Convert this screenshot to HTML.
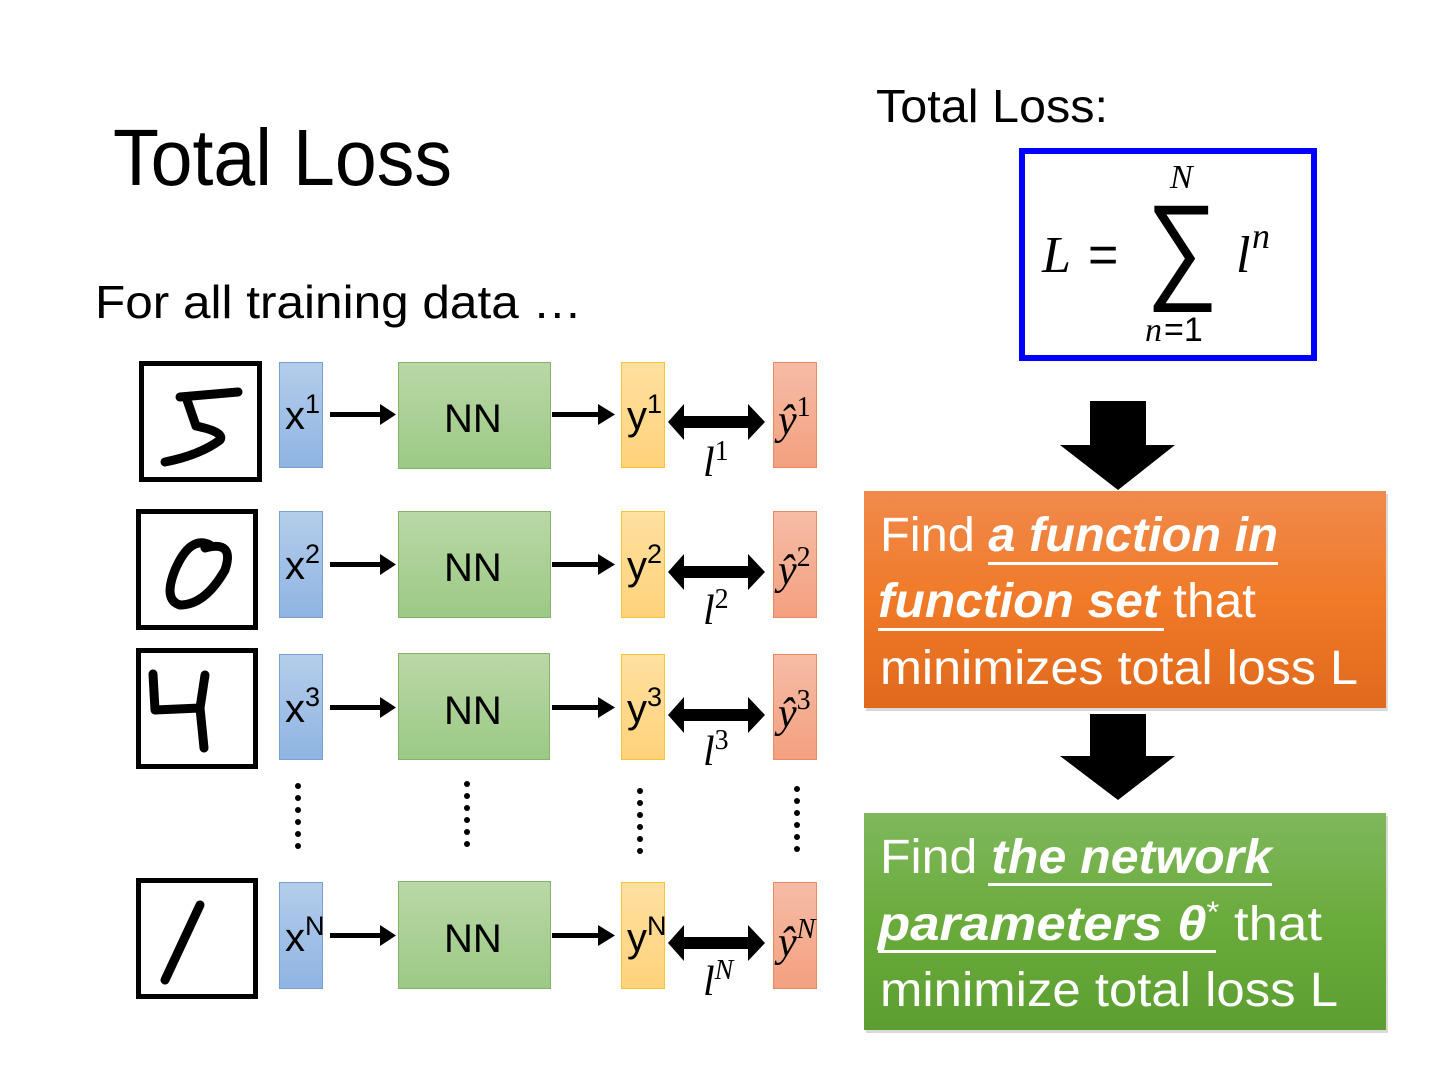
<!DOCTYPE html>
<html><head><meta charset="utf-8"><style>
html,body{margin:0;padding:0;background:#fff;width:1440px;height:1080px;overflow:hidden}
svg{display:block}
text{font-family:"Liberation Sans",sans-serif}
.m{font-family:"Liberation Serif",serif;font-style:italic}
</style></head><body>
<svg width="1440" height="1080" viewBox="0 0 1440 1080" xmlns="http://www.w3.org/2000/svg">
<defs>
<linearGradient id="gx" x1="0" y1="0" x2="0" y2="1"><stop offset="0" stop-color="#b4cdea"/><stop offset="1" stop-color="#8fb4e3"/></linearGradient>
<linearGradient id="gn" x1="0" y1="0" x2="0" y2="1"><stop offset="0" stop-color="#b9d8a6"/><stop offset="1" stop-color="#9cc985"/></linearGradient>
<linearGradient id="gy" x1="0" y1="0" x2="0" y2="1"><stop offset="0" stop-color="#ffe0a0"/><stop offset="1" stop-color="#ffd27a"/></linearGradient>
<linearGradient id="gh" x1="0" y1="0" x2="0" y2="1"><stop offset="0" stop-color="#f6bca6"/><stop offset="1" stop-color="#f3a07f"/></linearGradient>
<linearGradient id="go" x1="0" y1="0" x2="0" y2="1"><stop offset="0" stop-color="#f08a4c"/><stop offset="0.5" stop-color="#f07a28"/><stop offset="1" stop-color="#e0691c"/></linearGradient>
<linearGradient id="gg" x1="0" y1="0" x2="0" y2="1"><stop offset="0" stop-color="#7fb85c"/><stop offset="0.5" stop-color="#6aab3c"/><stop offset="1" stop-color="#5c9e30"/></linearGradient>
<g id="d"><circle cx="0" cy="0" r="3"/><circle cx="0" cy="12" r="3"/><circle cx="0" cy="24" r="3"/><circle cx="0" cy="36" r="3"/><circle cx="0" cy="48" r="3"/><circle cx="0" cy="60" r="3"/></g>
<g id="a1">
<rect x="330" y="412" width="52" height="5"/><polygon points="380,404 396,414.5 380,425"/>
<rect x="552" y="412" width="48" height="5"/><polygon points="598,404 615,414.5 598,425"/>
<polygon points="668,422 684,404 684,416 748,416 748,404 765,422 748,440 748,428 684,428 684,440"/>
</g>
</defs>

<text x="113" y="185" font-size="80" textLength="339" lengthAdjust="spacingAndGlyphs">Total Loss</text>
<text x="95" y="318" font-size="46" textLength="487" lengthAdjust="spacingAndGlyphs">For all training data …</text>
<text x="876" y="122" font-size="46" textLength="232" lengthAdjust="spacingAndGlyphs">Total Loss:</text>

<!-- formula box -->
<rect x="1022" y="151" width="292" height="207" fill="#fff" stroke="#0000ff" stroke-width="6"/>
<text class="m" x="1042" y="272" font-size="52">L</text>
<text x="1088" y="272" font-size="52" font-family="Liberation Serif">=</text>
<text x="1146" y="287" font-size="118" font-family="Liberation Serif" textLength="72" lengthAdjust="spacingAndGlyphs">∑</text>
<text class="m" x="1170" y="188" font-size="34">N</text>
<text class="m" x="1145" y="341" font-size="34">n</text>
<text x="1164" y="341" font-size="34" font-family="Liberation Serif">=1</text>
<text class="m" x="1236" y="272" font-size="52">l</text>
<text class="m" x="1252" y="248" font-size="36">n</text>

<!-- big arrows -->
<polygon points="1090,401 1146,401 1146,445 1175,445 1118,490 1060,445 1090,445" fill="#000"/>
<polygon points="1090,714 1146,714 1146,756 1175,756 1118,800 1060,756 1090,756" fill="#000"/>

<!-- orange box -->
<rect x="866" y="494" width="522" height="217" fill="#000" opacity="0.15"/>
<rect x="864" y="491" width="522" height="217" fill="url(#go)"/>
<g fill="#fff" font-size="48">
<text x="880" y="551" textLength="398" lengthAdjust="spacingAndGlyphs">Find <tspan font-weight="bold" font-style="italic">a function in</tspan></text>
<text x="878" y="617" textLength="378" lengthAdjust="spacingAndGlyphs"><tspan font-weight="bold" font-style="italic">function set</tspan> that</text>
<text x="880" y="684" textLength="478" lengthAdjust="spacingAndGlyphs">minimizes total loss L</text>
</g>
<rect x="988" y="562" width="290" height="3" fill="#fff"/>
<rect x="878" y="628" width="286" height="3" fill="#fff"/>

<!-- green box -->
<rect x="866" y="816" width="522" height="217" fill="#000" opacity="0.15"/>
<rect x="864" y="813" width="522" height="217" fill="url(#gg)"/>
<g fill="#fff" font-size="48">
<text x="880" y="873" textLength="392" lengthAdjust="spacingAndGlyphs">Find <tspan font-weight="bold" font-style="italic">the network</tspan></text>
<text x="878" y="940" textLength="444" lengthAdjust="spacingAndGlyphs"><tspan font-weight="bold" font-style="italic">parameters θ</tspan><tspan font-size="30" dy="-18">*</tspan><tspan dy="18"> that</tspan></text>
<text x="880" y="1006" textLength="458" lengthAdjust="spacingAndGlyphs">minimize total loss L</text>
</g>
<rect x="988" y="883" width="284" height="3" fill="#fff"/>
<rect x="878" y="950" width="338" height="3" fill="#fff"/>

<!-- frames -->
<rect x="141.5" y="363.5" width="118" height="116" fill="#fff" stroke="#000" stroke-width="5"/>
<rect x="138.5" y="511.5" width="117" height="116" fill="#fff" stroke="#000" stroke-width="5"/>
<rect x="138.5" y="650.5" width="117" height="116" fill="#fff" stroke="#000" stroke-width="5"/>
<rect x="138.5" y="880.5" width="117" height="116" fill="#fff" stroke="#000" stroke-width="5"/>
<g fill="none" stroke="#000" stroke-linecap="round" stroke-linejoin="round" stroke-width="9">
<path d="M180,397 L238,392 M186,397 L196,426 Q225,432 220,440 Q200,455 165,462"/>
<path d="M210,545 Q190,535 175,570 Q163,600 180,605 Q205,605 225,570 Q235,540 205,548"/>
<path d="M153,674 L155,710 L200,708 M205,675 L200,708 L204,748"/>
<path d="M200,905 L165,980"/>
</g>

<g font-size="40">
<rect x="279.5" y="362.5" width="43" height="105" fill="url(#gx)" stroke="#7aa0d0"/>
<rect x="398.5" y="362.5" width="152" height="106" fill="url(#gn)" stroke="#86b26b"/>
<rect x="621.5" y="362.5" width="43" height="105" fill="url(#gy)" stroke="#f2c43a"/>
<rect x="773.5" y="362.5" width="43" height="105" fill="url(#gh)" stroke="#e88a66"/>
<text x="285" y="429">x<tspan font-size="27" dy="-16">1</tspan></text>
<text x="444" y="432">NN</text>
<text x="627" y="429">y<tspan font-size="27" dy="-16">1</tspan></text>
<text class="m" x="778" y="434" font-size="42">ŷ<tspan font-size="28" dy="-18" font-style="normal">1</tspan></text>
<text class="m" x="703" y="476" font-size="42">l<tspan font-size="28" dy="-16" font-style="normal">1</tspan></text>

<rect x="279.5" y="511.5" width="43" height="106" fill="url(#gx)" stroke="#7aa0d0"/>
<rect x="398.5" y="511.5" width="152" height="106" fill="url(#gn)" stroke="#86b26b"/>
<rect x="621.5" y="511.5" width="43" height="106" fill="url(#gy)" stroke="#f2c43a"/>
<rect x="773.5" y="511.5" width="43" height="106" fill="url(#gh)" stroke="#e88a66"/>
<text x="285" y="579">x<tspan font-size="27" dy="-16">2</tspan></text>
<text x="444" y="581">NN</text>
<text x="627" y="579">y<tspan font-size="27" dy="-16">2</tspan></text>
<text class="m" x="778" y="584" font-size="42">ŷ<tspan font-size="28" dy="-18" font-style="normal">2</tspan></text>
<text class="m" x="703" y="624" font-size="42">l<tspan font-size="28" dy="-16" font-style="normal">2</tspan></text>

<rect x="279.5" y="654.5" width="43" height="105" fill="url(#gx)" stroke="#7aa0d0"/>
<rect x="398.5" y="653.5" width="151" height="106" fill="url(#gn)" stroke="#86b26b"/>
<rect x="621.5" y="654.5" width="43" height="105" fill="url(#gy)" stroke="#f2c43a"/>
<rect x="773.5" y="654.5" width="43" height="105" fill="url(#gh)" stroke="#e88a66"/>
<text x="285" y="722">x<tspan font-size="27" dy="-16">3</tspan></text>
<text x="444" y="724">NN</text>
<text x="627" y="722">y<tspan font-size="27" dy="-16">3</tspan></text>
<text class="m" x="778" y="727" font-size="42">ŷ<tspan font-size="28" dy="-18" font-style="normal">3</tspan></text>
<text class="m" x="703" y="765" font-size="42">l<tspan font-size="28" dy="-16" font-style="normal">3</tspan></text>

<rect x="279.5" y="882.5" width="43" height="106" fill="url(#gx)" stroke="#7aa0d0"/>
<rect x="398.5" y="881.5" width="152" height="107" fill="url(#gn)" stroke="#86b26b"/>
<rect x="621.5" y="882.5" width="43" height="106" fill="url(#gy)" stroke="#f2c43a"/>
<rect x="773.5" y="882.5" width="43" height="106" fill="url(#gh)" stroke="#e88a66"/>
<text x="285" y="951">x<tspan font-size="27" dy="-16">N</tspan></text>
<text x="444" y="952">NN</text>
<text x="627" y="951">y<tspan font-size="27" dy="-16">N</tspan></text>
<text class="m" x="778" y="956" font-size="42">ŷ<tspan font-size="28" dy="-18">N</tspan></text>
<text class="m" x="703" y="995" font-size="42">l<tspan font-size="28" dy="-16">N</tspan></text>
</g>

<g fill="#000">
<use href="#a1"/>
<use href="#a1" y="150"/>
<use href="#a1" y="293"/>
<use href="#a1" y="521"/>
<use href="#d" x="298" y="786"/>
<use href="#d" x="467" y="784"/>
<use href="#d" x="640" y="791"/>
<use href="#d" x="797" y="789"/>
</g>
</svg>
</body></html>
